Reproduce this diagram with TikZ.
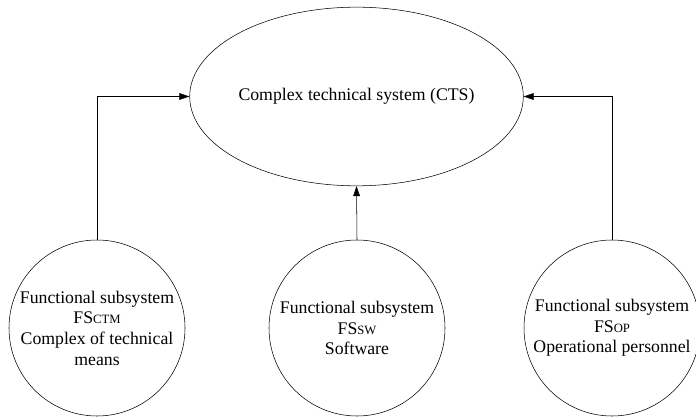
\documentclass[tikz,border=0pt]{standalone}
\usepackage{fontspec}
\setmainfont{Liberation Serif}
\usepackage{tikz}
\usetikzlibrary{shapes,arrows,arrows.meta}
\tikzstyle{whole}=[ellipse, draw=black, inner sep=0pt, minimum width=239pt, minimum height=134pt, text centered]
\tikzstyle{sub}=[circle, draw=black, inner sep=0pt, minimum size=132pt, align=center]
\tikzstyle{link}=[draw=black, -{Triangle[length=7.5pt,width=5pt]}]
\newcommand{\idx}[1]{{\fontsize{9.5}{9.5}\selectfont #1}}

\begin{document}
\begin{tikzpicture}[x=0.75pt, y=-0.75pt, font=\fontsize{13.3}{15.5}\selectfont]
\useasboundingbox (0,0) rectangle (696,417);
\node [whole] (cts) at (356.5,96.5) {Complex technical system (CTS)};
\node [sub] (ctm) at (97,328) {Functional subsystem\\FS\idx{CTM}\\Complex of technical\\means};
\node [sub] (sw) at (357,328) {Functional subsystem\\FS\idx{SW}\\Software};
\node [sub] (op) at (612,328) {Functional subsystem\\FS\idx{OP}\\Operational personnel};

\draw [link] (ctm.north) |- (cts.west);
\draw [link] (sw.north) -- (cts.south);
\draw [link] (op.north) |- (cts.east);

\end{tikzpicture}
\end{document}
